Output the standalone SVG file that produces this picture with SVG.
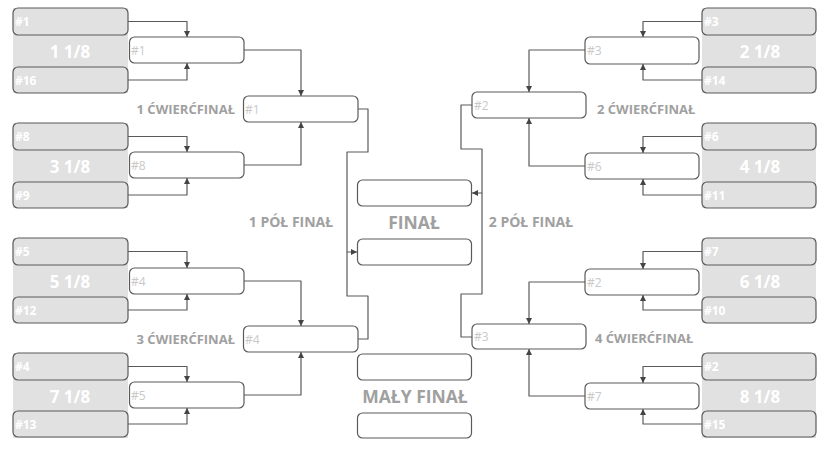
<svg xmlns="http://www.w3.org/2000/svg" width="831" height="449" viewBox="0 0 831 449">
<defs>
<style>
.panel{fill:#e1e1e1}
.gbox{fill:#e1e1e1;stroke:#5a5a5a;stroke-width:1.2}
.wbox{fill:#fff;stroke:#5a5a5a;stroke-width:1.2}
.seed{font-family:"Open Sans","Noto Sans",sans-serif;font-size:12px;font-weight:bold;fill:#fff}
.grp{font-family:"Open Sans","Noto Sans",sans-serif;font-size:17px;font-weight:bold;fill:#fff;text-anchor:middle}
.win{font-family:"Open Sans","Noto Sans",sans-serif;font-size:12px;fill:#c8c8c8}
.lbl{font-family:"Open Sans","Noto Sans",sans-serif;font-size:13px;font-weight:bold;fill:#a0a0a0}
.sf{font-size:14px}
.big{font-family:"Open Sans","Noto Sans",sans-serif;font-size:17.5px;font-weight:bold;fill:#a0a0a0;text-anchor:middle}
.con{fill:none;stroke:#5a5a5a;stroke-width:1.2;stroke-linejoin:round}
</style>
<marker id="ah" viewBox="0 0 10 10" refX="10" refY="5" markerWidth="6" markerHeight="6" markerUnits="userSpaceOnUse" orient="auto">
<path d="M0,0 L10,5 L0,10 z" fill="#444"/>
</marker>
</defs>
<rect width="831" height="449" fill="#fff"/>

<g id="connectors">
<path class="con" marker-end="url(#ah)" d="M128,21.5 H187 V37"/>
<path class="con" marker-end="url(#ah)" d="M128,80 H187 V63"/>
<path class="con" marker-end="url(#ah)" d="M128,136.5 H187 V152"/>
<path class="con" marker-end="url(#ah)" d="M128,195 H187 V178"/>
<path class="con" marker-end="url(#ah)" d="M128,251.5 H187 V268"/>
<path class="con" marker-end="url(#ah)" d="M128,310 H187 V294"/>
<path class="con" marker-end="url(#ah)" d="M128,366.5 H187 V382"/>
<path class="con" marker-end="url(#ah)" d="M128,424 H187 V408"/>
<path class="con" marker-end="url(#ah)" d="M244,50 H301 V96"/>
<path class="con" marker-end="url(#ah)" d="M244,165 H301 V122"/>
<path class="con" marker-end="url(#ah)" d="M244,281 H301 V326"/>
<path class="con" marker-end="url(#ah)" d="M244,395 H301 V352"/>
<path class="con" marker-end="url(#ah)" d="M358,109 H368 V152 H347 V252 H357"/>
<path class="con" d="M358,339 H368 V296 H347 V252"/>
<path class="con" marker-end="url(#ah)" d="M702,21.5 H643 V37"/>
<path class="con" marker-end="url(#ah)" d="M702,80 H643 V64"/>
<path class="con" marker-end="url(#ah)" d="M702,136.5 H643 V153"/>
<path class="con" marker-end="url(#ah)" d="M702,195 H643 V179"/>
<path class="con" marker-end="url(#ah)" d="M702,251.5 H643 V269"/>
<path class="con" marker-end="url(#ah)" d="M702,310 H643 V295"/>
<path class="con" marker-end="url(#ah)" d="M702,366.5 H643 V383"/>
<path class="con" marker-end="url(#ah)" d="M702,424 H643 V409"/>
<path class="con" marker-end="url(#ah)" d="M585,50 H529 V92"/>
<path class="con" marker-end="url(#ah)" d="M585,166 H529 V118"/>
<path class="con" marker-end="url(#ah)" d="M585,282 H529 V324"/>
<path class="con" marker-end="url(#ah)" d="M585,396 H529 V349"/>
<path class="con" marker-end="url(#ah)" d="M472,105 H461 V149 H482 V193 H472"/>
<path class="con" d="M472,337 H461 V294 H482 V193"/>
</g>

<g id="l1">
<rect class="panel" x="13" y="8" width="115" height="85"/>
<rect class="gbox" x="13" y="8" width="115" height="27" rx="5"/>
<rect class="gbox" x="13" y="67" width="115" height="26" rx="5"/>
<text class="seed" x="15" y="26">#1</text>
<text class="grp" x="70" y="57.5">1 1/8</text>
<text class="seed" x="15" y="84.5">#16</text>
</g>
<g id="l2">
<rect class="panel" x="13" y="123" width="115" height="85"/>
<rect class="gbox" x="13" y="123" width="115" height="27" rx="5"/>
<rect class="gbox" x="13" y="182" width="115" height="26" rx="5"/>
<text class="seed" x="15" y="141">#8</text>
<text class="grp" x="70" y="172.5">3 1/8</text>
<text class="seed" x="15" y="199.5">#9</text>
</g>
<g id="l3">
<rect class="panel" x="13" y="238" width="115" height="85"/>
<rect class="gbox" x="13" y="238" width="115" height="27" rx="5"/>
<rect class="gbox" x="13" y="297" width="115" height="26" rx="5"/>
<text class="seed" x="15" y="256">#5</text>
<text class="grp" x="70" y="287.5">5 1/8</text>
<text class="seed" x="15" y="314.5">#12</text>
</g>
<g id="l4">
<rect class="panel" x="13" y="353" width="115" height="85"/>
<rect class="gbox" x="13" y="353" width="115" height="27" rx="5"/>
<rect class="gbox" x="13" y="411" width="115" height="26" rx="5"/>
<text class="seed" x="15" y="371">#4</text>
<text class="grp" x="70" y="402.5">7 1/8</text>
<text class="seed" x="15" y="428.5">#13</text>
</g>

<g id="lw1"><rect class="wbox" x="129.5" y="37" width="114.5" height="26" rx="5"/><text class="win" x="131" y="54.5">#1</text></g>
<g id="lw2"><rect class="wbox" x="129.5" y="152" width="114.5" height="26" rx="5"/><text class="win" x="131" y="169.5">#8</text></g>
<g id="lw3"><rect class="wbox" x="129.5" y="268" width="114.5" height="26" rx="5"/><text class="win" x="131" y="285.5">#4</text></g>
<g id="lw4"><rect class="wbox" x="129.5" y="382" width="114.5" height="26" rx="5"/><text class="win" x="131" y="399.5">#5</text></g>

<g id="qf1"><rect class="wbox" x="243.5" y="96" width="114.5" height="26" rx="5"/><text class="win" x="245" y="113.5">#1</text><text class="lbl" x="235" y="113.5" text-anchor="end">1 ĆWIERĆFINAŁ</text></g>
<g id="qf3"><rect class="wbox" x="243.5" y="326" width="114.5" height="26" rx="5"/><text class="win" x="245" y="343.5">#4</text><text class="lbl" x="235" y="343.5" text-anchor="end">3 ĆWIERĆFINAŁ</text></g>

<g id="r1">
<rect class="panel" x="702" y="8" width="114" height="85"/>
<rect class="gbox" x="702" y="8" width="114" height="27" rx="5"/>
<rect class="gbox" x="702" y="67" width="114" height="26" rx="5"/>
<text class="seed" x="704" y="26">#3</text>
<text class="grp" x="760" y="57.5">2 1/8</text>
<text class="seed" x="704" y="84.5">#14</text>
</g>
<g id="r2">
<rect class="panel" x="702" y="123" width="114" height="85"/>
<rect class="gbox" x="702" y="123" width="114" height="27" rx="5"/>
<rect class="gbox" x="702" y="182" width="114" height="26" rx="5"/>
<text class="seed" x="704" y="141">#6</text>
<text class="grp" x="760" y="172.5">4 1/8</text>
<text class="seed" x="704" y="199.5">#11</text>
</g>
<g id="r3">
<rect class="panel" x="702" y="238" width="114" height="85"/>
<rect class="gbox" x="702" y="238" width="114" height="27" rx="5"/>
<rect class="gbox" x="702" y="297" width="114" height="26" rx="5"/>
<text class="seed" x="704" y="256">#7</text>
<text class="grp" x="760" y="287.5">6 1/8</text>
<text class="seed" x="704" y="314.5">#10</text>
</g>
<g id="r4">
<rect class="panel" x="702" y="353" width="114" height="85"/>
<rect class="gbox" x="702" y="353" width="114" height="27" rx="5"/>
<rect class="gbox" x="702" y="411" width="114" height="26" rx="5"/>
<text class="seed" x="704" y="371">#2</text>
<text class="grp" x="760" y="402.5">8 1/8</text>
<text class="seed" x="704" y="428.5">#15</text>
</g>

<g id="rw1"><rect class="wbox" x="585" y="37" width="114" height="27" rx="5"/><text class="win" x="587" y="55">#3</text></g>
<g id="rw2"><rect class="wbox" x="585" y="153" width="114" height="26" rx="5"/><text class="win" x="587" y="170.5">#6</text></g>
<g id="rw3"><rect class="wbox" x="585" y="269" width="114" height="26" rx="5"/><text class="win" x="587" y="286.5">#2</text></g>
<g id="rw4"><rect class="wbox" x="585" y="383" width="114" height="26" rx="5"/><text class="win" x="587" y="400.5">#7</text></g>

<g id="qf2"><rect class="wbox" x="472" y="92" width="114" height="26" rx="5"/><text class="win" x="474" y="109.5">#2</text><text class="lbl" x="597" y="113.5">2 ĆWIERĆFINAŁ</text></g>
<g id="qf4"><rect class="wbox" x="472" y="324" width="114" height="25" rx="5"/><text class="win" x="474" y="341">#3</text><text class="lbl" x="595" y="342.5">4 ĆWIERĆFINAŁ</text></g>

<g id="sf1"><text class="lbl sf" x="291" y="227" text-anchor="middle">1 PÓŁ FINAŁ</text></g>
<g id="sf2"><text class="lbl sf" x="531" y="227" text-anchor="middle">2 PÓŁ FINAŁ</text></g>

<g id="final">
<rect class="wbox" x="357.5" y="180" width="114" height="26" rx="5"/>
<rect class="wbox" x="357.5" y="239" width="114" height="26" rx="5"/>
<text class="big" x="414" y="228.5">FINAŁ</text>
</g>
<g id="smallfinal">
<rect class="wbox" x="357.5" y="354" width="114" height="26" rx="5"/>
<rect class="wbox" x="357.5" y="413" width="114" height="25" rx="5"/>
<text class="big" x="415" y="403">MAŁY FINAŁ</text>
</g>
</svg>
